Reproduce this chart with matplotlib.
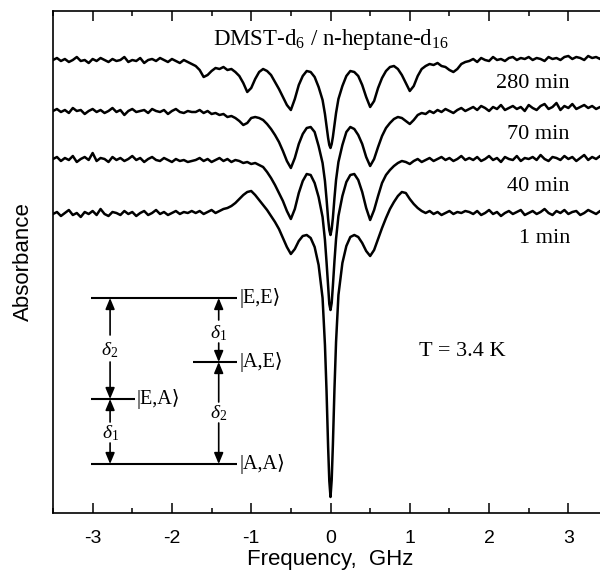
import matplotlib
matplotlib.use("Agg")
import matplotlib.pyplot as plt
from matplotlib.ticker import MultipleLocator

# frequency grid (GHz), finer sampling around the central line
freq = [
    -3.50, -3.45, -3.40, -3.35, -3.30, -3.25, -3.20, -3.15, -3.10, -3.05,
    -3.00, -2.95, -2.90, -2.85, -2.80, -2.75, -2.70, -2.65, -2.60, -2.55,
    -2.50, -2.45, -2.40, -2.35, -2.30, -2.25, -2.20, -2.15, -2.10, -2.05,
    -2.00, -1.95, -1.90, -1.85, -1.80, -1.75,
    -1.70, -1.65, -1.60, -1.55, -1.50, -1.45, -1.40, -1.35, -1.30, -1.25,
    -1.20, -1.15, -1.10, -1.05, -1.00, -0.95, -0.90, -0.85, -0.80, -0.75,
    -0.70, -0.65, -0.60, -0.55, -0.50, -0.45, -0.40, -0.35, -0.30, -0.25,
    -0.20,
    -0.15, -0.10, -0.07, -0.05, -0.03, -0.015, 0.0, 0.015, 0.03, 0.05, 0.07, 0.10, 0.15,
    0.20, 0.25, 0.30, 0.35, 0.40, 0.45, 0.50, 0.55, 0.60, 0.65,
    0.70, 0.75, 0.80, 0.85, 0.90, 0.95, 1.00, 1.05, 1.10, 1.15,
    1.20, 1.25, 1.30, 1.35, 1.40, 1.45, 1.50, 1.55, 1.60, 1.65,
    1.70,
    1.75, 1.80, 1.85, 1.90, 1.95, 2.00, 2.05, 2.10, 2.15, 2.20,
    2.25, 2.30, 2.35, 2.40, 2.45, 2.50, 2.55, 2.60, 2.65, 2.70,
    2.75, 2.80, 2.85, 2.90, 2.95, 3.00, 3.05, 3.10, 3.15, 3.20,
    3.25, 3.30, 3.35, 3.40, 3.45, 3.50,
]

# absorbance traces (arb. units, already stacked as in the figure)
abs_280min = [
    453, 455, 452, 454, 451, 453, 456, 452, 453, 450, 454, 452, 455, 453, 451, 454, 452, 453,
    456, 451, 453, 452, 455, 450, 453, 454, 452, 455, 453, 451, 454, 452, 450, 453, 451, 449,
    447, 443, 436, 438, 442, 445, 444, 446, 443, 444, 441, 437, 430, 421, 425, 434, 441, 444,
    442, 438, 431, 424, 416, 408, 403, 414, 428, 437, 442, 441, 436,
    426, 413, 399, 387, 375, 368, 365, 369, 376, 388, 400, 414, 427,
    437, 442, 441, 437, 428, 416, 406, 412, 425, 435, 442, 446, 447, 444, 438, 430, 422, 427,
    437, 444, 447, 449, 448, 450, 447, 446, 443, 441, 444, 449, 451,
    452, 454, 451, 455, 453, 452, 456, 453, 454, 452, 455, 456, 453, 455, 454, 456, 453, 455,
    454, 452, 456, 454, 455, 453, 456, 457, 454, 456, 455, 453, 457, 455, 456, 454, 457, 455,
]
abs_70min = [
    402, 404, 401, 403, 400, 405, 402, 403, 399, 402, 404, 401, 403, 400, 402, 405, 401, 403,
    398, 402, 404, 401, 402, 403, 400, 404, 402, 401, 403, 399, 402, 404, 401, 400, 402, 401,
    401, 403, 400, 402, 399, 400, 398, 399, 396, 397, 395, 392, 388, 390, 395, 396, 395, 393,
    389, 384, 378, 371, 362, 352, 345, 355, 369, 379, 385, 386, 381,
    367, 350, 332, 314, 294, 283, 278, 284, 295, 315, 333, 351, 368,
    381, 386, 384, 378, 369, 356, 347, 354, 366, 377, 385, 390, 394, 396, 395, 392, 389, 393,
    398, 400, 399, 402, 400, 403, 401, 404, 402, 400, 403, 405, 402,
    404, 406, 403, 407, 405, 402, 406, 404, 408, 403, 405, 407, 404, 406, 402, 408, 405, 403,
    407, 409, 404, 406, 410, 403, 407, 405, 409, 404, 406, 408, 405, 407, 404, 406, 405, 407,
]
abs_40min = [
    354, 356, 352, 355, 353, 357, 351, 354, 356, 353, 360, 352, 355, 354, 351, 356, 353, 355,
    352, 354, 357, 353, 355, 351, 354, 356, 353, 352, 355, 353, 351, 354, 352, 353, 351, 352,
    353, 355, 352, 354, 351, 353, 355, 352, 354, 351, 353, 352, 350, 351, 349, 350, 348, 346,
    341, 335, 328, 320, 312, 302, 294, 304, 320, 332, 339, 338, 330,
    316, 296, 273, 251, 226, 209, 203, 210, 227, 252, 274, 297, 317,
    331, 338, 339, 333, 321, 305, 293, 303, 317, 330, 338, 343, 347, 350, 352, 351, 349, 352,
    354, 351, 353, 355, 352, 354, 356, 353, 355, 352, 354, 357, 353,
    355, 353, 356, 352, 354, 357, 353, 355, 351, 356, 354, 353, 357, 352, 355, 354, 356, 353,
    358, 354, 352, 356, 355, 353, 357, 354, 356, 352, 355, 358, 353, 356, 354, 357, 355, 353,
]
abs_1min = [
    299, 301, 297, 300, 303, 298, 300, 296, 301, 299, 302, 298, 304, 299, 297, 301, 300, 298,
    302, 299, 301, 297, 300, 302, 298, 300, 303, 299, 301, 298, 300, 302, 299, 301, 300, 302,
    300, 302, 299, 301, 303, 300, 302, 304, 305, 307, 310, 314, 318, 321, 322, 318, 313, 308,
    303, 297, 291, 284, 275, 266, 259, 264, 272, 277, 278, 275, 266,
    248, 215, 168, 122, 66, 32, 16, 33, 68, 124, 171, 218, 250,
    267, 276, 278, 276, 270, 262, 257, 263, 274, 285, 295, 304, 311, 317, 321, 320, 314, 309,
    305, 302, 300, 302, 299, 301, 298, 300, 302, 299, 301, 300, 302,
    301, 299, 302, 298, 300, 303, 299, 301, 297, 300, 302, 299, 301, 303, 298, 300, 302, 299,
    301, 304, 300, 298, 302, 300, 303, 299, 301, 302, 298, 300, 303, 301, 299, 302, 300, 301,
]

traces = [abs_280min, abs_70min, abs_40min, abs_1min]
trace_labels = ["280 min", "70 min", "40 min", "1 min"]
label_y = [425, 374, 322, 270]

for t in traces:
    assert len(t) == len(freq), (len(t), len(freq))

plt.rcParams["font.family"] = "Liberation Sans"
plt.rcParams["axes.unicode_minus"] = False
plt.rcParams["mathtext.fontset"] = "custom"
plt.rcParams["mathtext.rm"] = "Liberation Serif"
plt.rcParams["mathtext.it"] = "Liberation Serif:italic"

fig = plt.figure(figsize=(6, 5.71), dpi=100)
# right spine sits just outside the picture, as in the cropped original
ax = fig.add_axes([53 / 600, 58 / 571, 555 / 600, 502 / 571])

for t in traces:
    ax.plot(freq, t, color="black", lw=1.8)

serif = "Liberation Serif"
for lab, yl in zip(trace_labels, label_y):
    ax.text(3.02, yl, lab, ha="right", va="baseline", family=serif, fontsize=16)

ax.text(0.0, 468, r"DMST-d$_{6}$ / n-heptane-d$_{16}$", ha="center", va="baseline",
        family=serif, fontsize=16.5)
ax.text(1.12, 162, "T = 3.4 K", ha="left", va="center", family=serif, fontsize=16)

# energy level scheme
lw_lvl = 1.5
ax.hlines(215, -3.02, -1.18, color="black", lw=lw_lvl)   # |E,E>
ax.hlines(151, -1.735, -1.18, color="black", lw=lw_lvl)  # |A,E>
ax.hlines(114, -3.02, -2.465, color="black", lw=lw_lvl)  # |E,A>
ax.hlines(49, -3.02, -1.18, color="black", lw=lw_lvl)    # |A,A>

ket = dict(family=["Liberation Serif", "DejaVu Sans"], fontsize=14.5, va="center", ha="left")
ax.text(-1.15, 215, "|E,E\u27e9", **ket)
ax.text(-1.15, 151, "|A,E\u27e9", **ket)
ax.text(-1.15, 49, "|A,A\u27e9", **ket)
ax.text(-2.45, 114, "|E,A\u27e9", **ket)

arrow = dict(arrowstyle="-|>,head_length=0.6,head_width=0.25", color="black", lw=1.2,
             shrinkA=0, shrinkB=0, mutation_scale=11)


def double_arrow(x, y_top, y_bot, y_gap_top, y_gap_bot, text, y_text):
    ax.annotate("", xy=(x, y_top), xytext=(x, y_gap_top), arrowprops=arrow)
    ax.annotate("", xy=(x, y_bot), xytext=(x, y_gap_bot), arrowprops=arrow)
    ax.text(x, y_text, text, ha="center", va="center", fontsize=14)


double_arrow(-2.78, 215, 114, 178, 151, r"$\delta_2$", 163)
double_arrow(-2.78, 114, 49, 91, 70, r"$\delta_1$", 80)
double_arrow(-1.41, 215, 151, 193, 170, r"$\delta_1$", 180)
double_arrow(-1.41, 151, 49, 111, 90, r"$\delta_2$", 100)

ax.set_xlim(-3.5, 3.5)
ax.set_ylim(0, 502)
ax.set_yticks([])
ax.set_xticks([-3, -2, -1, 0, 1, 2, 3])
ax.xaxis.set_minor_locator(MultipleLocator(0.5))
ax.tick_params(axis="x", which="major", direction="in", length=7, width=1.1,
               top=True, labelsize=14, pad=12)
ax.tick_params(axis="x", which="minor", direction="in", length=3.5, width=1.1, top=True)
for s in ax.spines.values():
    s.set_linewidth(1.2)

ax.set_xlabel("Frequency,  GHz", fontsize=16, labelpad=2)
ax.set_ylabel("Absorbance", fontsize=16, labelpad=14)

fig.savefig("out.png", dpi=100)
